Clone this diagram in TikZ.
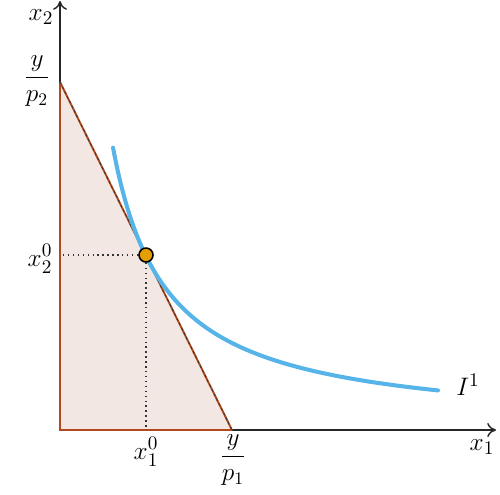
\documentclass[tikz,border=0pt]{standalone}
\usepackage{amsmath}
\usetikzlibrary{arrows.meta,positioning,calc}

\definecolor{budgetbrown}{HTML}{B04A1E}
\definecolor{budgetfill}{HTML}{F3E7E3}
\definecolor{curveblue}{HTML}{56B4E9}
\definecolor{pointorange}{HTML}{E69F00}

\begin{document}
\begin{tikzpicture}[
    x=0.02cm, y=-0.02cm,
    lbl/.style={font=\fontsize{15.5}{18}\selectfont, inner sep=1pt},
    fraclbl/.style={font=\fontsize{14.5}{17}\selectfont, inner sep=1pt},
    ax/.style={-{To[length=5pt,width=8pt]}, thick, black!85},
    budget/.style={budgetbrown, line width=1.1pt},
    guide/.style={dotted, thick, black!80},
    opt/.style={circle, draw=black, fill=pointorange, line width=0.9pt,
                inner sep=0pt, minimum size=0.28cm}
]
\useasboundingbox (0,0) rectangle (500,494);

% axes and budget set corners
\coordinate (O) at (60,430);
\coordinate (xend) at (496,430);
\coordinate (yend) at (60,1);
\coordinate (ycut) at (60,82);
\coordinate (xcut) at (232,430);

\fill[budgetfill] (O) -- (ycut) -- (xcut) -- cycle;
\draw[ax] (O) -- (xend);
\draw[ax] (O) -- (yend);
\draw[budget] (xcut) -- (O) -- (ycut);
\draw[budget] (ycut) -- (xcut);
\draw[black!80, line width=0.45pt, dash pattern=on 1.5pt off 1.5pt] (ycut) -- (xcut);

% indifference curve
\draw[curveblue, line width=2.3pt, line cap=round]
    plot[domain=113:438, samples=80, smooth] (\x, {430-14964/(\x-60)});

% optimum
\node[opt] (best) at (146,255) {};
\coordinate (bx) at (146,430);
\coordinate (by) at (60,255);
\draw[guide] (best) -- (bx);
\draw[guide] (best) -- (by);

% labels
\node[lbl] (x2) at (41,17) {$x_2$};
\node[lbl] (x1) at (482,447) {$x_1$};
\node[fraclbl] (yp2) at (37,81) {$\dfrac{y}{p_2}$};
\node[fraclbl] (yp1) at (233,460) {$\dfrac{y}{p_1}$};
\node[lbl] (x20) at (40,259) {$x_2^0$};
\node[lbl] (x10) at (146,452) {$x_1^0$};
\node[lbl] (I1) at (468,385) {$I^1$};
\end{tikzpicture}
\end{document}
